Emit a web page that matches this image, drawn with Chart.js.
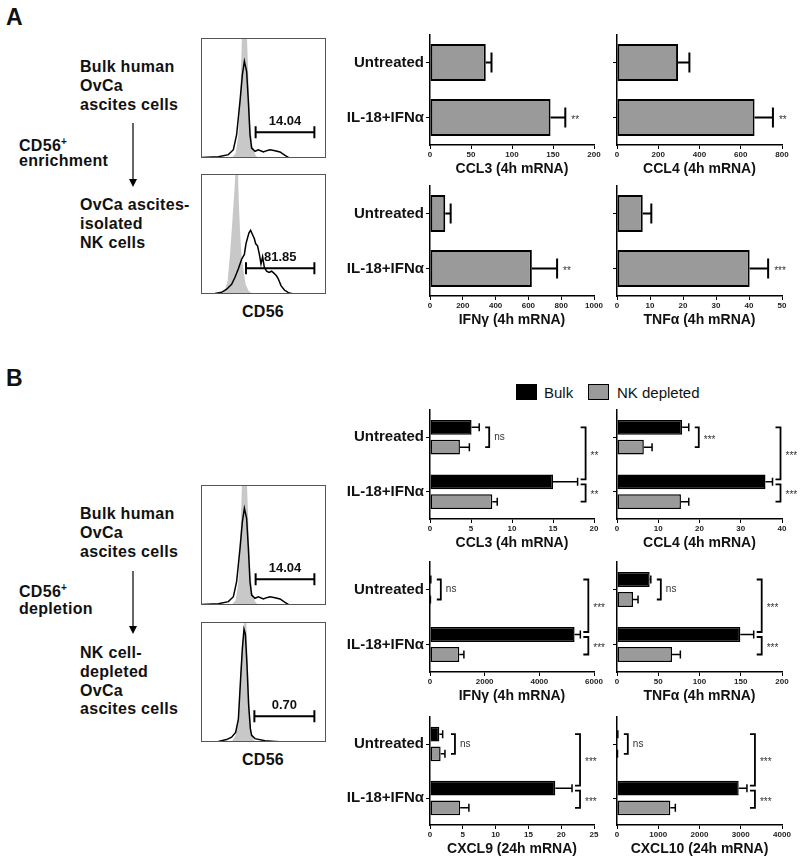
<!doctype html>
<html>
<head>
<meta charset="UTF-8">
<title>NK cells in OvCa ascites</title>
<script src="https://cdn.jsdelivr.net/npm/chart.js@4"></script>
<style>
  body { margin: 0; background: #fff; }
  #page { position: relative; width: 800px; height: 863px; font-family: 'Liberation Sans', Arial, sans-serif; color: #111; }
  #page canvas, #page .t, #page svg, #page .box { position: absolute; }
  .t { font-weight: bold; font-size: 16px; line-height: 1; white-space: nowrap; letter-spacing: 0.3px; }
  .t sup { font-size: 10px; vertical-align: 0; position: relative; top: -6px; }
  .box { width: 21px; height: 16px; box-sizing: border-box; border: 1.5px solid #000; }
</style>
</head>
<body>
<div id="page"></div>
<script>
const font = "'Liberation Sans', Arial, sans-serif";
const categories = ['Untreated', 'IL-18+IFNα'];

// A: ascites-isolated NK cells
const aTitles = ['CCL3 (4h mRNA)', 'CCL4 (4h mRNA)', 'IFNγ (4h mRNA)', 'TNFα (4h mRNA)'];
const aMax  = [200, 800, 1000, 50];
const aStep = [50, 200, 200, 10];
const aMean = [[68, 147], [296, 667], [93, 621], [7.8, 40.2]];
const aErr  = [[75, 165], [351, 756], [126, 775], [10.4, 45.8]];
const aSig  = ['**', '**', '**', '***'];

// B: bulk vs NK depleted ascites cells
const bTitles = ['CCL3 (4h mRNA)', 'CCL4 (4h mRNA)', 'IFNγ (4h mRNA)', 'TNFα (4h mRNA)', 'CXCL9 (24h mRNA)', 'CXCL10 (24h mRNA)'];
const bMax  = [20, 40, 6000, 200, 25, 4000];
const bStep = [5, 10, 2000, 50, 5, 1000];
const bulkMean = [[5.07, 15.0], [15.8, 36.0], [20, 5290], [39.6, 149.5], [1.42, 19.1], [15, 2950]];
const bulkErr  = [[6.0, 18.0], [17.4, 37.7], [30, 5500], [41, 165.7], [1.93, 21.65], [20, 3150]];
const nkMean   = [[3.65, 7.6], [6.5, 15.5], [10, 1071], [19.4, 66.7], [1.62, 4.6], [10, 1293]];
const nkErr    = [[4.8, 8.2], [8.5, 17.4], [15, 1240], [25.5, 76.8], [2.28, 5.93], [12, 1414]];
const bSigNs    = ['ns', '***', 'ns', 'ns', 'ns', 'ns'];
const bSigTreat = ['**', '***', '***', '***', '***', '***'];
const bSigIl    = ['**', '***', '***', '***', '***', '***'];

// CD56 histograms (x: CD56 channel 0-100, y: % of max)
const isoBulk = [[24.5,0],[27.7,4],[29.9,19],[31.7,61],[32.7,100],[34.7,130],[36.8,100],[38.3,55],[39.5,28],[41,11],[43.2,3],[45.3,0.5],[47,0]];
const cd56Bulk = [[0,0.5],[13.9,1.1],[21.9,2.8],[25.9,6.9],[28.5,19.4],[31.2,47.2],[33.1,69.4],[34.7,80.6],[36.5,72.2],[37.9,47.2],[39.2,19.4],[40.5,8.3],[43.2,5.6],[45.9,6.9],[49.9,5],[52.5,6.1],[55.2,6.9],[59.2,6.1],[63.2,5],[67.2,2.2],[69.9,0.5],[100,0]];
const isoEnriched = [[16.5,0],[19.2,3],[21.3,11],[23.2,33],[25.1,61],[26.7,86],[27.5,100],[28.6,120],[29.6,100],[30.4,72],[31.5,47],[32.5,31],[34.1,19],[35.7,8],[37.9,3],[40.5,0.5],[44.5,0]];
const cd56Enriched = [[0,0],[11.2,0.5],[16.5,1.4],[20.5,4],[24.5,8],[27.2,14],[29.9,21],[32.5,29],[34.7,33],[36,42],[37.3,47],[38.4,51],[39.7,53],[41,50],[42.7,46],[43.7,42],[45.3,40],[46.7,33],[48,25],[49.3,31],[50.7,22],[52.5,19],[54.4,18],[56.5,19],[58.7,17],[60.5,15],[61.9,12.5],[64,7],[66.7,3.3],[69.9,1.1],[73.9,0],[100,0]];
const isoDepleted = [[24.5,0],[27.7,5.6],[29.9,22],[31.7,61],[33.3,83],[34.7,100],[35.5,104],[36.2,100],[37.3,69],[38.7,33],[40,11],[41.9,2],[44.5,0]];
const cd56Depleted = [[0,0],[13.9,0.5],[20.5,2],[24.5,4],[27.7,8],[29.9,19],[31.7,53],[33.1,78],[34.4,94],[35.5,90],[36.8,64],[38.1,31],[39.5,11],[40.5,5.6],[43.2,2.8],[51.2,1.1],[59.2,0.5],[67.2,0],[100,0]];
const gateBulk = [43.7, 90.7];
const gateEnriched = [36, 90.7];
const gateDepleted = [42.7, 90.7];
const gateLabels = ['14.04', '81.85', '0.70'];

Chart.defaults.font.family = font;
const page = document.getElementById('page');

function makeCanvas(x, y, w, h) {
  const c = document.createElement('canvas');
  c.width = w; c.height = h;
  c.style.left = x + 'px'; c.style.top = y + 'px';
  page.appendChild(c);
  return c;
}

function text(html, x, y, size, extra) {
  const d = document.createElement('div');
  d.className = 't';
  d.innerHTML = html;
  size = size || 16;
  d.style.fontSize = size + 'px';
  d.style.left = x + 'px';
  d.style.top = (y - size / 2) + 'px';
  if (extra) Object.assign(d.style, extra);
  page.appendChild(d);
  return d;
}

function arrow(x, y1, y2) {
  const h = y2 - y1;
  page.insertAdjacentHTML('beforeend',
    `<svg style="left:${x - 6}px;top:${y1}px" width="12" height="${h}">
      <line x1="6" y1="0" x2="6" y2="${h - 6}" stroke="#000" stroke-width="1.2"/>
      <polygon points="2,${h - 8} 10,${h - 8} 6,${h}" fill="#000"/></svg>`);
}

function drawSig(ctx, s, x, y) {
  ctx.save();
  ctx.font = '10px ' + font;
  ctx.fillStyle = '#333';
  ctx.textBaseline = 'middle';
  ctx.fillText(s, x, s[0] === '*' ? y + 2.5 : y);
  ctx.restore();
}

function errPx(chart, di, i) {
  return chart.scales.x.getPixelForValue(chart.data.datasets[di].errTop[i]);
}

// one sided error bars
const errorBars = {
  id: 'errorBars',
  afterDatasetsDraw(chart) {
    const ctx = chart.ctx;
    chart.data.datasets.forEach((ds, di) => {
      chart.getDatasetMeta(di).data.forEach((bar, i) => {
        const px = errPx(chart, di, i);
        const cap = bar.height * 0.27;
        ctx.save();
        ctx.strokeStyle = '#000';
        ctx.lineWidth = ds.borderWidth;
        ctx.beginPath();
        ctx.moveTo(bar.x, bar.y); ctx.lineTo(px, bar.y);
        ctx.moveTo(px, bar.y - cap); ctx.lineTo(px, bar.y + cap);
        ctx.stroke();
        ctx.restore();
      });
    });
  }
};

const starLabel = {
  id: 'starLabel',
  afterDatasetsDraw(chart, args, opts) {
    const bar = chart.getDatasetMeta(0).data[1];
    drawSig(chart.ctx, opts.text, errPx(chart, 0, 1) + 6, bar.y);
  }
};

const brackets = {
  id: 'brackets',
  afterDatasetsDraw(chart, args, opts) {
    const ctx = chart.ctx;
    const bulk = chart.getDatasetMeta(0).data, nk = chart.getDatasetMeta(1).data;
    const nsX = Math.max(errPx(chart, 0, 0), errPx(chart, 1, 0)) + 10;
    const bigX = Math.max(errPx(chart, 0, 0), errPx(chart, 1, 0), errPx(chart, 0, 1), errPx(chart, 1, 1)) + 8;
    const bracket = (x, y1, y2, arm, label) => {
      ctx.save();
      ctx.strokeStyle = '#000';
      ctx.lineWidth = 1.8;
      ctx.beginPath();
      ctx.moveTo(x - arm, y1); ctx.lineTo(x, y1); ctx.lineTo(x, y2); ctx.lineTo(x - arm, y2);
      ctx.stroke();
      ctx.restore();
      drawSig(ctx, label, x + 5, (y1 + y2) / 2);
    };
    bracket(nsX, bulk[0].y, nk[0].y, 4, opts.ns);
    bracket(bigX, bulk[0].y, bulk[1].y - 2.5, 5, opts.treat);
    bracket(bigX, bulk[1].y + 2.5, nk[1].y, 5, opts.il);
  }
};

function barChart(axisX, areaTop, areaW, areaH, showLabels, title, max, step, datasets, pluginOpts, extraPlugin, sizes) {
  const c = makeCanvas(axisX - 90, areaTop - 5, 90 + areaW + 15, 5 + areaH + 35);
  return new Chart(c, {
    type: 'bar',
    data: { labels: categories, datasets },
    options: {
      indexAxis: 'y',
      responsive: false,
      animation: false,
      layout: { padding: { top: 5, right: 15, left: 0, bottom: 0 } },
      datasets: { bar: { categoryPercentage: sizes[0], barPercentage: sizes[1], borderSkipped: false } },
      plugins: Object.assign({ legend: { display: false }, tooltip: { enabled: false } }, pluginOpts),
      scales: {
        x: {
          type: 'linear', min: 0, max: max,
          ticks: { stepSize: step, font: { size: 8, weight: 'bold' }, color: '#222', padding: 1, maxRotation: 0,
                   callback: v => String(v) },
          grid: { display: true, drawOnChartArea: false, tickLength: 4, color: '#000', lineWidth: 1 },
          border: { color: '#000', width: 1.5 },
          title: { display: true, text: title, font: { size: 14, weight: 'bold' }, color: '#111', padding: { top: 0, bottom: 2 } },
          afterFit: s => { s.height = 35; }
        },
        y: {
          ticks: { display: showLabels, font: { size: 15, weight: 'bold' }, color: '#111', padding: 2 },
          grid: { display: true, drawOnChartArea: false, offset: false, tickLength: 4, color: '#000', lineWidth: 1 },
          border: { color: '#000', width: 1.5 },
          afterFit: s => { s.width = 90; s.paddingTop = 0; s.paddingBottom = 0; }
        }
      }
    },
    plugins: [errorBars, extraPlugin]
  });
}

// histogram frame and gate
const histGate = {
  id: 'histGate',
  afterDraw(chart, args, opts) {
    const { ctx, chartArea: a } = chart;
    const xs = chart.scales.x, ys = chart.scales.y;
    ctx.save();
    ctx.strokeStyle = '#555';
    ctx.lineWidth = 1;
    ctx.strokeRect(a.left + 0.5, a.top + 0.5, a.width - 1, a.height - 1);
    const x1 = xs.getPixelForValue(opts.gate[0]), x2 = xs.getPixelForValue(opts.gate[1]);
    const y = ys.getPixelForValue(21.4);
    ctx.strokeStyle = '#000';
    ctx.lineWidth = 2;
    ctx.beginPath();
    ctx.moveTo(x1, y); ctx.lineTo(x2, y);
    ctx.moveTo(x1, y - 6); ctx.lineTo(x1, y + 6);
    ctx.moveTo(x2, y - 6); ctx.lineTo(x2, y + 6);
    ctx.stroke();
    ctx.font = 'bold 13px ' + font;
    ctx.fillStyle = '#111';
    ctx.textAlign = 'center';
    ctx.textBaseline = 'middle';
    ctx.fillText(opts.label, (x1 + x2) / 2, y - 10.5);
    ctx.restore();
  }
};

function histChart(x, y, iso, stain, gate, label) {
  const c = makeCanvas(x, y, 125, 120);
  const pts = arr => arr.map(p => ({ x: p[0], y: p[1] }));
  return new Chart(c, {
    type: 'line',
    data: {
      datasets: [
        { data: pts(stain), borderColor: '#000', borderWidth: 1.5, pointRadius: 0, fill: false, tension: 0 },
        { data: pts(iso), borderColor: 'rgba(0,0,0,0)', borderWidth: 0, backgroundColor: '#c8c8c8', pointRadius: 0, fill: 'origin', tension: 0 }
      ]
    },
    options: {
      responsive: false,
      animation: false,
      layout: { padding: 0 },
      plugins: { legend: { display: false }, tooltip: { enabled: false }, histGate: { gate, label } },
      scales: {
        x: { type: 'linear', min: 0, max: 100, display: false },
        y: { min: 0, max: 100, display: false }
      }
    },
    plugins: [histGate]
  });
}

// ---- panel A ----
text('A', 6, 17, 23);
text('Bulk human', 80, 66.7); text('OvCa', 80, 86); text('ascites cells', 80, 105.3);
text('CD56<sup>+</sup>', 19, 145.6); text('enrichment', 19, 160.5);
arrow(133.3, 123, 187);
text('OvCa ascites-', 80, 205); text('isolated', 80, 224); text('NK cells', 80, 242.5);
text('CD56', 263, 312, 16, { transform: 'translateX(-50%)' });
histChart(201, 38, isoBulk, cd56Bulk, gateBulk, gateLabels[0]);
histChart(201, 174, isoEnriched, cd56Enriched, gateEnriched, gateLabels[1]);

const aPos = [[430, 35, 164], [617, 35, 165], [430, 186, 164], [617, 186, 165]];
aTitles.forEach((t, i) => {
  const ds = [{ data: aMean[i], errTop: aErr[i], backgroundColor: '#9a9a9a', borderColor: '#000', borderWidth: 2 }];
  barChart(aPos[i][0], aPos[i][1], aPos[i][2], 110, i % 2 === 0, t, aMax[i], aStep[i], ds,
    { starLabel: { text: aSig[i] } }, starLabel, [0.67, 1]);
});

// ---- panel B ----
text('B', 6, 378, 23);
text('Bulk human', 80, 514); text('OvCa', 80, 533.3); text('ascites cells', 80, 552.3);
text('CD56<sup>+</sup>', 19, 591.7); text('depletion', 19, 608.5);
arrow(133.3, 571, 634);
text('NK cell-', 80, 653.3); text('depleted', 80, 671.7); text('OvCa', 80, 690.7); text('ascites cells', 80, 709.3);
text('CD56', 263, 760, 16, { transform: 'translateX(-50%)' });
histChart(201, 485, isoBulk, cd56Bulk, gateBulk, gateLabels[0]);
histChart(201, 622, isoDepleted, cd56Depleted, gateDepleted, gateLabels[2]);

// legend
page.insertAdjacentHTML('beforeend',
  '<div class="box" style="left:516px;top:384px;background:#000"></div>' +
  '<div class="box" style="left:588px;top:384px;background:#9a9a9a"></div>');
text('Bulk', 544, 392.5, 15, { fontWeight: 'normal', letterSpacing: '0' });
text('NK depleted', 617, 392.5, 15, { fontWeight: 'normal', letterSpacing: '0' });

const bRows = [[410, 109], [562, 110], [717, 108]];
bTitles.forEach((t, i) => {
  const row = bRows[Math.floor(i / 2)];
  const left = i % 2 === 0;
  const ds = [
    { label: 'Bulk', data: bulkMean[i], errTop: bulkErr[i], backgroundColor: '#000', borderColor: '#000', borderWidth: 1.5 },
    { label: 'NK depleted', data: nkMean[i], errTop: nkErr[i], backgroundColor: '#9a9a9a', borderColor: '#000', borderWidth: 1.5 }
  ];
  barChart(left ? 430 : 617, row[0], left ? 164 : 165, row[1], left, t, bMax[i], bStep[i], ds,
    { brackets: { ns: bSigNs[i], treat: bSigTreat[i], il: bSigIl[i] } }, brackets, [0.727, 0.75]);
});
</script>
</body>
</html>
